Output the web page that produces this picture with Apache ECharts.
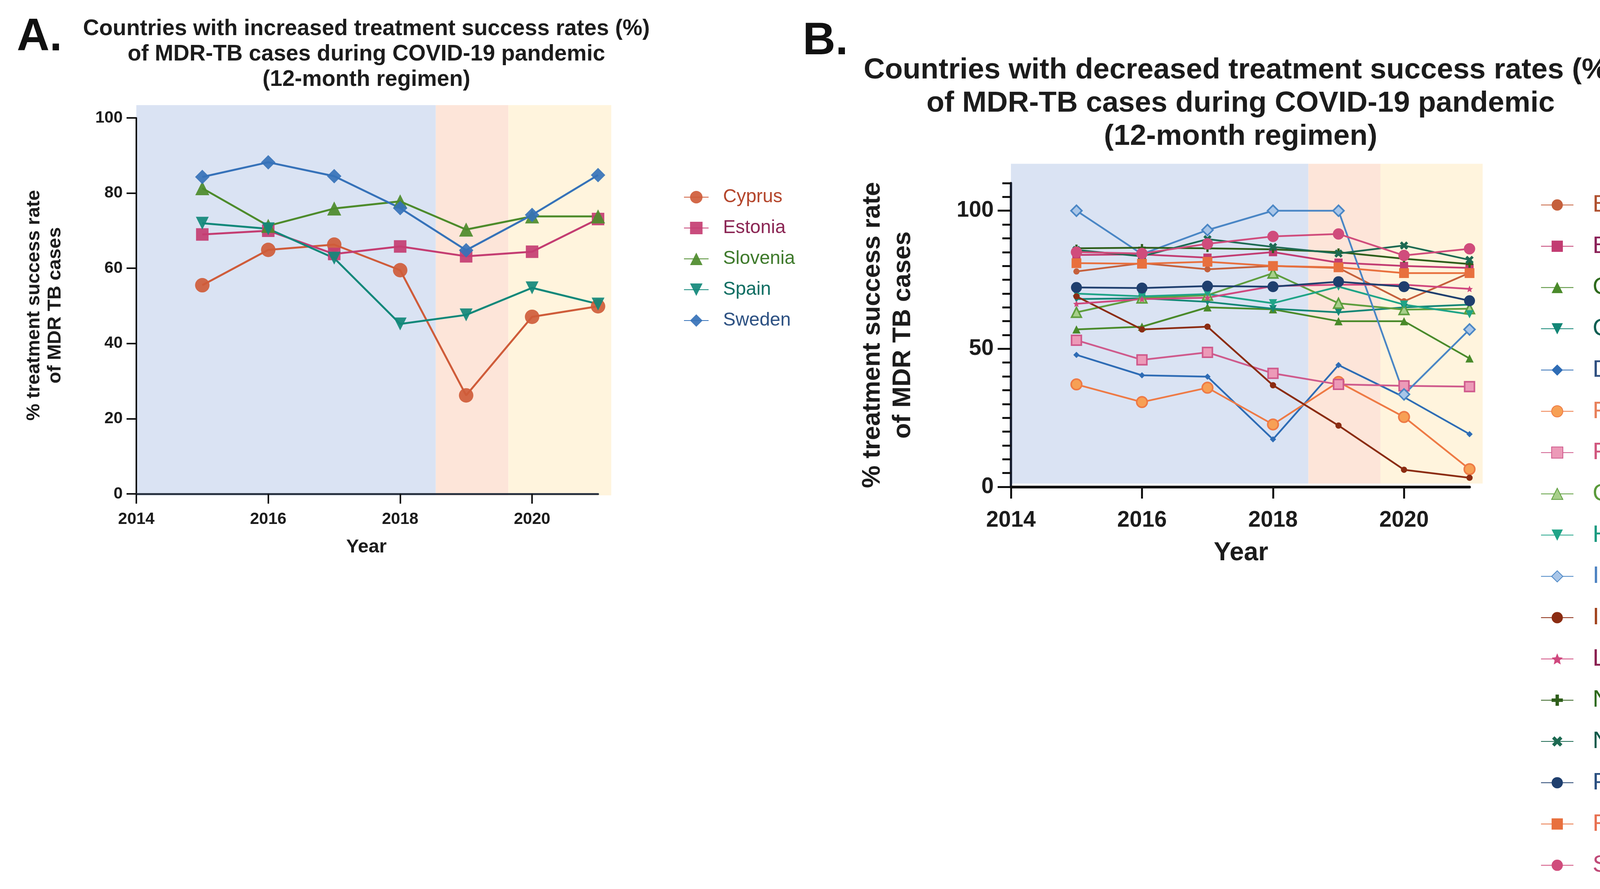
<!DOCTYPE html>
<html><head><meta charset="utf-8">
<script src="https://cdn.jsdelivr.net/npm/echarts@6/dist/echarts.min.js"></script>
<style>html,body{margin:0;padding:0;background:#fff}#c{width:4444px;height:2277px}</style>
</head><body><div id="c"></div>
<script>
// ---------- data ----------
const years = [2015, 2016, 2017, 2018, 2019, 2020, 2021];
const xTickLabels = [2014, 2016, 2018, 2020];
const yTicksA = [0, 20, 40, 60, 80, 100];
const yTicksB = [0, 50, 100];

// Panel A (increased)
const countriesA = ['Cyprus', 'Estonia', 'Slovenia', 'Spain', 'Sweden'];
const cyprus   = [55.5, 64.9, 66.3, 59.5, 26.2, 47.1, 49.9];
const estonia  = [69.0, 70.0, 63.8, 65.8, 63.2, 64.4, 73.1];
const slovenia = [81.3, 71.3, 75.9, 77.8, 70.3, 73.8, 73.8];
const spain    = [72.0, 70.5, 62.7, 45.2, 47.6, 54.8, 50.5];
const sweden   = [84.3, 88.2, 84.5, 76.0, 64.8, 74.2, 84.8];

// Panel B (decreased)
const countriesB = ['Belgium','Bulgaria','Croatia','Czechia','Denmark','Finland','France','Germany','Hungary','Iceland','Ireland','Lithuania','Netherlands','Norway','Portugal','Romania','Slovakia'];
const belgium     = [78.0, 81.0, 78.8, 80.0, 79.3, 67.2, 77.5];
const bulgaria    = [84.0, 84.2, 83.0, 85.0, 81.2, 80.0, 79.3];
const croatia     = [57.0, 58.0, 65.0, 64.3, 60.0, 60.0, 46.5];
const czechia     = [68.0, 68.3, 67.0, 64.5, 63.2, 65.0, 66.0];
const denmark     = [47.8, 40.4, 39.9, 17.2, 44.1, 32.5, 19.1];
const finland     = [37.1, 30.7, 35.9, 22.6, 38.0, 25.3, 6.4];
const france      = [53.1, 46.0, 48.7, 41.1, 37.1, 36.6, 36.3];
const germany     = [63.2, 68.4, 69.4, 77.4, 66.5, 64.2, 64.5];
const hungary     = [70.0, 69.0, 69.8, 66.5, 72.5, 66.0, 62.5];
const iceland     = [100, 84.3, 93.0, 100, 100, 33.5, 57.0];
const ireland     = [69.0, 57.0, 58.0, 36.8, 22.2, 6.2, 3.3];
const lithuania   = [66.3, 68.0, 68.5, 72.7, 73.2, 73.2, 71.7];
const netherlands = [86.4, 86.6, 86.4, 86.0, 85.0, 82.6, 80.7];
const norway      = [85.8, 83.5, 89.7, 86.9, 84.5, 87.4, 82.2];
const portugal    = [72.2, 72.0, 72.7, 72.5, 74.3, 72.5, 67.4];
const romania     = [81.0, 80.8, 81.5, 80.0, 79.5, 77.4, 77.4];
const slovakia    = [85.0, 84.5, 88.0, 90.7, 91.6, 83.8, 86.2];

// Period bands (pre-pandemic, 2019, pandemic) in axis units
const bandStart = [2014, 2018.54, 2019.64];
const bandEnd   = [2018.54, 2019.64, 2021.2];

// ---------- styling ----------
const TRI_DOWN = 'path://M0,0L20,0L10,17.3Z';
const STAR = 'path://M10,0L12.9,6.9L20,7.6L14.6,12.3L16.2,19.4L10,15.7L3.8,19.4L5.4,12.3L0,7.6L7.1,6.9Z';
const PLUS = 'path://M7,0H13V7H20V13H13V20H7V13H0V7H7Z';
const bandColors = ['#dae3f3', '#fde5d9', '#fff4dd'];

const styleA = {
  Cyprus:   {c:'#cf5c3a', t:'#b4462c', s:'circle', z:37},
  Estonia:  {c:'#c43d72', t:'#8b2654', s:'rect', z:32},
  Slovenia: {c:'#4d8b2b', t:'#3f7a2c', s:'triangle', z:36},
  Spain:    {c:'#11887a', t:'#0f6e63', s:TRI_DOWN, z:33},
  Sweden:   {c:'#3672b9', t:'#2e5283', s:'diamond', z:37}
};
const valsA = {Cyprus:cyprus, Estonia:estonia, Slovenia:slovenia, Spain:spain, Sweden:sweden};

const styleB = {
  Belgium:    {c:'#c5603c', t:'#b0502e', s:'circle', z:16},
  Bulgaria:   {c:'#c23c72', t:'#8b2158', s:'rect', z:21},
  Croatia:    {c:'#4a8a2a', t:'#2e6a1c', s:'triangle', z:21},
  Czechia:    {c:'#138676', t:'#0e5e52', s:TRI_DOWN, z:19},
  Denmark:    {c:'#2e6cb5', t:'#2f4f80', s:'diamond', z:16},
  Finland:    {c:'#ee7a45', t:'#e8805a', s:'circle', z:27, f:'#f7a055'},
  France:     {c:'#cf5a8c', t:'#d0577e', s:'rect', z:25, f:'#ec9ab8'},
  Germany:    {c:'#5e9e3e', t:'#5a9a3a', s:'triangle', z:25, f:'#a7cf8a'},
  Hungary:    {c:'#1fa487', t:'#1a9a80', s:TRI_DOWN, z:21},
  Iceland:    {c:'#4a86c5', t:'#4a80c0', s:'diamond', z:28, f:'#a9c6e8'},
  Ireland:    {c:'#8b2c12', t:'#a0401a', s:'circle', z:16},
  Lithuania:  {c:'#d0487e', t:'#8a2050', s:STAR, z:17},
  Netherlands:{c:'#2e5e1a', t:'#2e6a1a', s:PLUS, z:19},
  Norway:     {c:'#1d6a52', t:'#0e5a4a', s:PLUS, z:23, r:45},
  Portugal:   {c:'#1f3f6e', t:'#2a4f80', s:'circle', z:28},
  Romania:    {c:'#e8703e', t:'#e87050', s:'rect', z:25},
  Slovakia:   {c:'#d04c7c', t:'#c04a78', s:'circle', z:29}
};
const valsB = {Belgium:belgium, Bulgaria:bulgaria, Croatia:croatia, Czechia:czechia, Denmark:denmark, Finland:finland, France:france, Germany:germany, Hungary:hungary, Iceland:iceland, Ireland:ireland, Lithuania:lithuania, Netherlands:netherlands, Norway:norway, Portugal:portugal, Romania:romania, Slovakia:slovakia};

function bandSeries(xi, yi, yLow, yHigh) {
  return {
    type: 'custom', xAxisIndex: xi, yAxisIndex: yi, z: 0, silent: true, clip: false,
    data: bandStart.map((s, i) => [s, bandEnd[i], yLow, yHigh, i]),
    renderItem: (params, api) => {
      const p0 = api.coord([api.value(0), api.value(3)]);
      const p1 = api.coord([api.value(1), api.value(2)]);
      return {type: 'rect', shape: {x: p0[0], y: p0[1], width: p1[0] - p0[0], height: p1[1] - p0[1]},
              style: {fill: bandColors[api.value(4)]}};
    }
  };
}

const series = [bandSeries(0, 0, -0.4, 103.4), bandSeries(1, 1, 1.2, 117)];

countriesA.forEach(n => {
  const st = styleA[n];
  series.push({
    type: 'line', name: n, xAxisIndex: 0, yAxisIndex: 0, z: 5,
    data: years.map((y, i) => [y, valsA[n][i]]),
    symbol: st.s, symbolSize: st.z,
    lineStyle: {color: st.c, width: 5},
    itemStyle: {color: st.c, opacity: 0.92}
  });
});
countriesB.forEach(n => {
  const st = styleB[n];
  series.push({
    type: 'line', name: n, xAxisIndex: 1, yAxisIndex: 1, z: 5,
    data: years.map((y, i) => [y, valsB[n][i]]),
    symbol: st.s, symbolSize: st.z, symbolRotate: st.r || 0,
    lineStyle: {color: st.c, width: 4.5},
    itemStyle: st.f ? {color: st.f, borderColor: st.c, borderWidth: 4} : {color: st.c}
  });
});

const FONT = 'Liberation Sans, Arial, sans-serif';
const dark = '#1c1c1c';
const plain = v => String(v);

const option = {
  animation: false,
  backgroundColor: '#ffffff',
  grid: [
    {left: 349, top: 302, width: 1182, height: 963},
    {left: 2588, top: 469, width: 1174, height: 778}
  ],
  xAxis: [
    {gridIndex: 0, type: 'value', min: 2014, max: 2021, z: 6,
     splitLine: {show: false},
     axisLine: {onZero: true, lineStyle: {color: '#2b3442', width: 5}},
     axisTick: {customValues: xTickLabels, length: 25, lineStyle: {color: '#111', width: 4}},
     axisLabel: {customValues: xTickLabels, formatter: plain, margin: 44, fontSize: 42, fontWeight: 'bold', fontFamily: FONT, color: dark}},
    {gridIndex: 1, type: 'value', min: 2014, max: 2021, z: 6,
     splitLine: {show: false},
     axisLine: {onZero: true, lineStyle: {color: '#111', width: 7}},
     axisTick: {customValues: xTickLabels, length: 30, lineStyle: {color: '#111', width: 5}},
     axisLabel: {customValues: xTickLabels, formatter: plain, margin: 58, fontSize: 57, fontWeight: 'bold', fontFamily: FONT, color: dark}}
  ],
  yAxis: [
    {gridIndex: 0, type: 'value', min: 0, max: 100, interval: 20, z: 6,
     splitLine: {show: false},
     axisLine: {show: true, lineStyle: {color: '#111', width: 4}},
     axisTick: {show: true, length: 25, lineStyle: {color: '#111', width: 4}},
     axisLabel: {customValues: yTicksA, formatter: plain, margin: 35, fontSize: 42, fontWeight: 'bold', fontFamily: FONT, color: dark}},
    {gridIndex: 1, type: 'value', min: 0, max: 110, interval: 5, z: 6,
     splitLine: {show: false},
     axisLine: {show: true, lineStyle: {color: '#1b2233', width: 6}},
     axisTick: {show: true, length: 22, lineStyle: {color: '#111', width: 5}},
     axisLabel: {customValues: yTicksB, formatter: plain, margin: 44, fontSize: 57, fontWeight: 'bold', fontFamily: FONT, color: dark}},
    {gridIndex: 1, type: 'value', min: 0, max: 110, position: 'left', z: 6,
     splitLine: {show: false},
     axisLine: {show: false},
     axisTick: {show: true, customValues: yTicksB, length: 34, lineStyle: {color: '#111', width: 5}},
     axisLabel: {show: false}}
  ],
  legend: [
    {data: countriesA.map(n => ({name: n, textStyle: {color: styleA[n].t}})),
     orient: 'vertical', left: 1745, top: 476, itemWidth: 63, itemHeight: 40, itemGap: 31,
     textStyle: {fontSize: 48, fontFamily: FONT, padding: [0, 0, 0, 32]}},
    {data: countriesB.map(n => ({name: n, textStyle: {color: styleB[n].t}})),
     orient: 'vertical', left: 3939, top: 489, itemWidth: 83, itemHeight: 36, itemGap: 43.7,
     textStyle: {fontSize: 62, fontFamily: FONT, padding: [0, 0, 0, 44]}}
  ],
  graphic: [
    {type: 'text', x: 43, y: 97, style: {text: 'A.', fontSize: 116, fontWeight: 'bold', fontFamily: FONT, fill: '#111', verticalAlign: 'middle'}},
    {type: 'text', x: 938, y: 139, style: {text: 'Countries with increased treatment success rates (%)\nof MDR-TB cases during COVID-19 pandemic\n(12-month regimen)', fontSize: 57, lineHeight: 65, fontWeight: 'bold', fontFamily: FONT, fill: dark, align: 'center', verticalAlign: 'middle'}},
    {type: 'text', x: 114, y: 782, rotation: Math.PI / 2, style: {text: '% treatment success rate\nof MDR TB cases', fontSize: 49, lineHeight: 54, fontWeight: 'bold', fontFamily: FONT, fill: dark, align: 'center', verticalAlign: 'middle'}},
    {type: 'text', x: 938, y: 1401, style: {text: 'Year', fontSize: 49, fontWeight: 'bold', fontFamily: FONT, fill: dark, align: 'center', verticalAlign: 'middle'}},
    {type: 'text', x: 2055, y: 107, style: {text: 'B.', fontSize: 116, fontWeight: 'bold', fontFamily: FONT, fill: '#111', verticalAlign: 'middle'}},
    {type: 'text', x: 3176, y: 265, style: {text: 'Countries with decreased treatment success rates (%)\nof MDR-TB cases during COVID-19 pandemic\n(12-month regimen)', fontSize: 75, lineHeight: 85, fontWeight: 'bold', fontFamily: FONT, fill: dark, align: 'center', verticalAlign: 'middle'}},
    {type: 'text', x: 2273, y: 858, rotation: Math.PI / 2, style: {text: '% treatment success rate\nof MDR TB cases', fontSize: 65, lineHeight: 78, fontWeight: 'bold', fontFamily: FONT, fill: dark, align: 'center', verticalAlign: 'middle'}},
    {type: 'text', x: 3177, y: 1417, style: {text: 'Year', fontSize: 66, fontWeight: 'bold', fontFamily: FONT, fill: dark, align: 'center', verticalAlign: 'middle'}}
  ],
  series: series
};

const chart = echarts.init(document.getElementById('c'), null, {renderer: 'canvas'});
chart.setOption(option);
</script>
</body></html>
